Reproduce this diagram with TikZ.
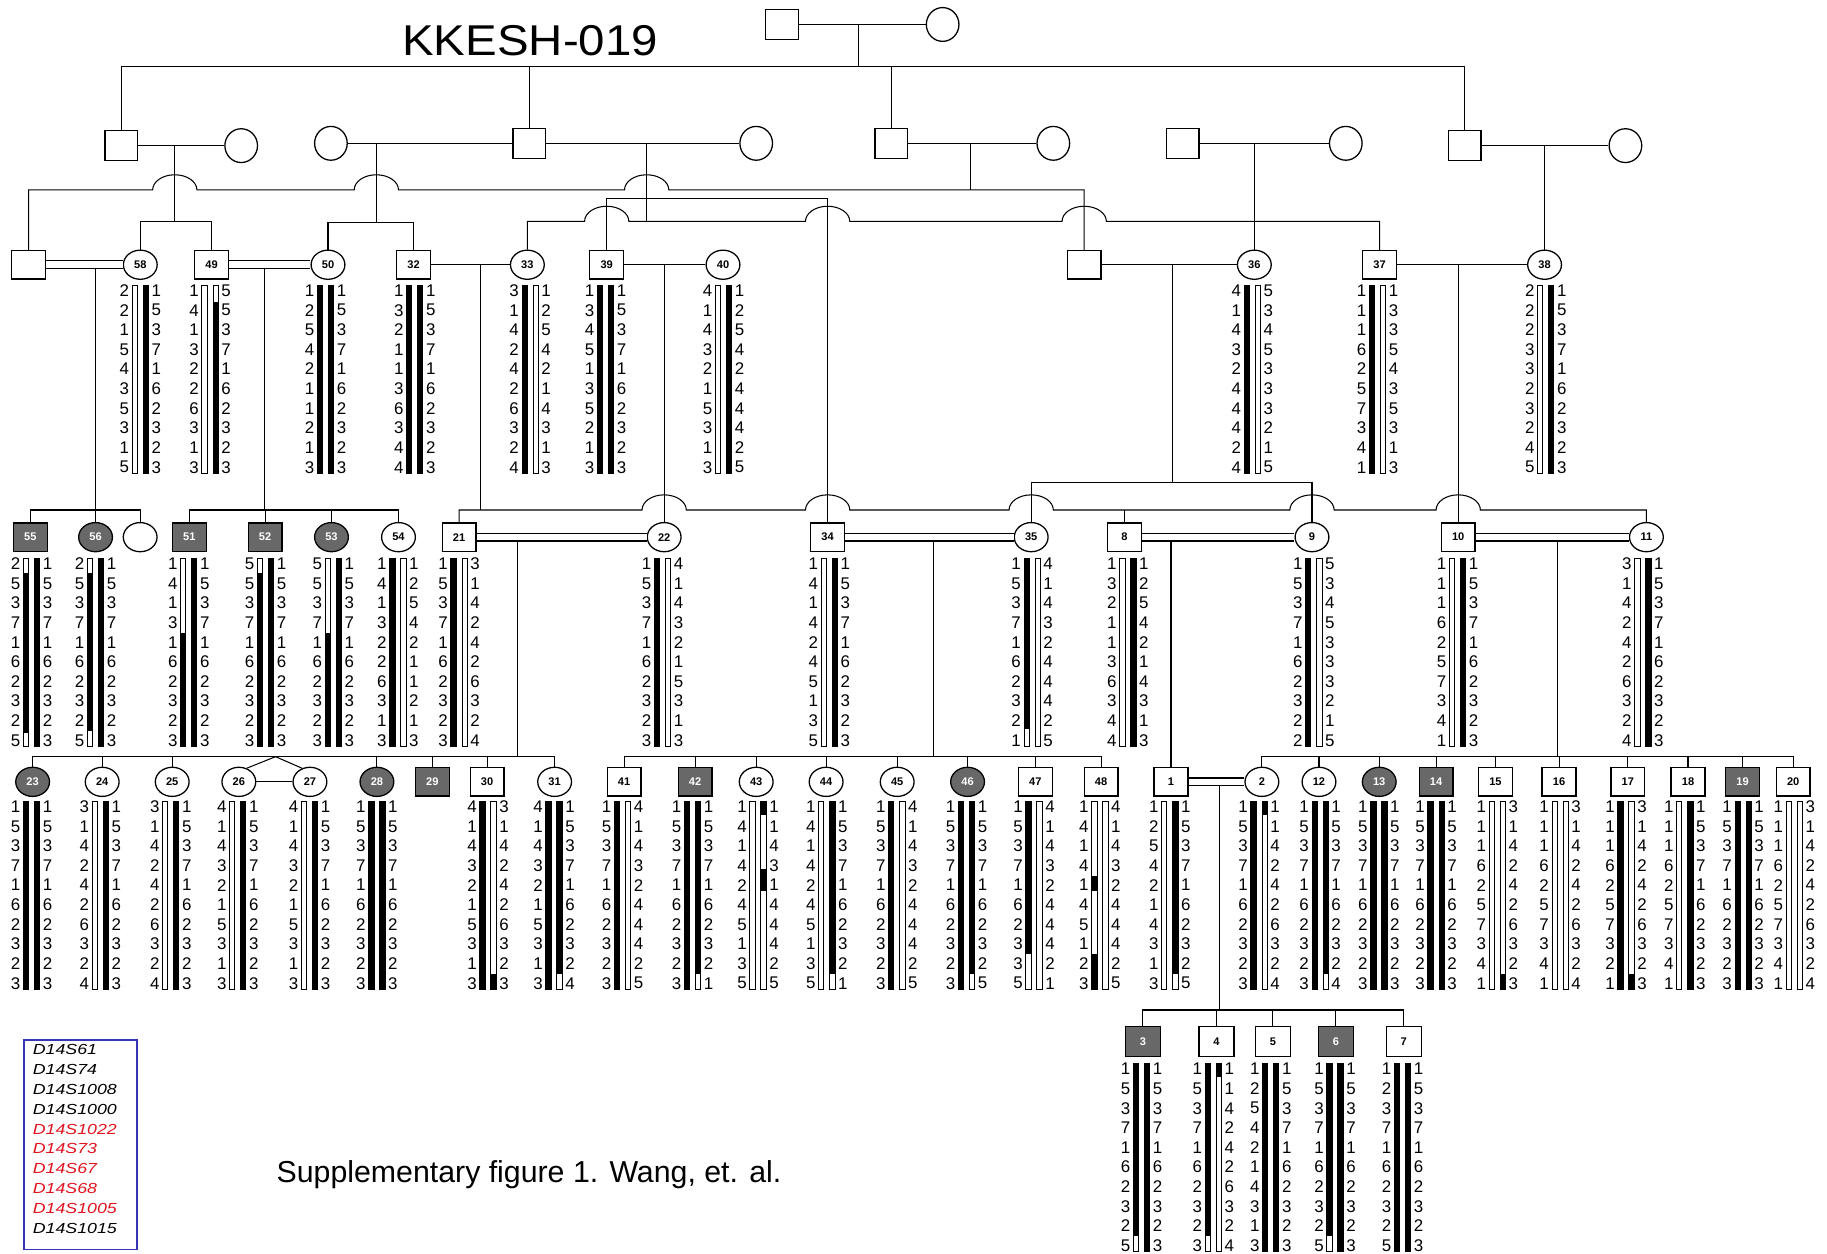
\documentclass[tikz,border=0pt]{standalone}
\usepackage{fontspec}
\setmainfont{Liberation Sans}
\newfontfamily\widefont[FakeStretch=1.1]{Liberation Sans}
\newfontfamily\legfont[FakeStretch=1.22]{Liberation Sans}
\usetikzlibrary{shapes.geometric}
\definecolor{affgray}{HTML}{686868}
\definecolor{legblue}{HTML}{3535B5}
\definecolor{legred}{HTML}{E0141E}
\newcommand\digfont{\fontsize{14.5}{14.5}\selectfont}
\newcommand\labfont{\fontsize{9.5}{9.5}\selectfont\bfseries}
\newcommand\hap[7]{%
  \foreach \hv [count=\i] in {#4}{\node[dig,anchor=east] (#1L\i) at ({#2-9.5},{#3+4.8+(\i-1)*16.84}) {\hv};}%
  \foreach \hv [count=\i] in {#5}{\node[dig,anchor=west] (#1R\i) at ({#2+9.5},{#3+4.8+(\i-1)*16.84}) {\hv};}%
  \draw[hbar] ({#2-7},#3) rectangle ({#2-2.5},{#3+161.5});%
  \foreach \ya/\yb in {#6}{\fill ({#2-7},{#3+\ya*16.15}) rectangle ({#2-2.5},{#3+\yb*16.15});}%
  \draw[hbar] ({#2+2.5},#3) rectangle ({#2+7},{#3+161.5});%
  \foreach \ya/\yb in {#7}{\fill ({#2+2.5},{#3+\ya*16.15}) rectangle ({#2+7},{#3+\yb*16.15});}%
}
\begin{document}
\begin{tikzpicture}[x=1pt,y=-1pt,
  ln/.style={line width=0.9pt},
  dbl/.style={line width=0.9pt,double=white,double distance=5.7pt},
  sqA/.style={draw,line width=1.1pt,fill=white,minimum width=28pt,minimum height=26pt,inner sep=0pt},
  ciA/.style={draw,ellipse,line width=1.1pt,fill=white,minimum width=28pt,minimum height=29pt,inner sep=0pt},
  sq/.style={draw,line width=1.1pt,fill=white,minimum width=29pt,minimum height=24.5pt,inner sep=0pt,font=\labfont},
  sqB/.style={draw,line width=1.1pt,fill=white,minimum width=30pt,minimum height=26pt,inner sep=0pt,font=\labfont},
  ci/.style={draw,ellipse,line width=1.1pt,fill=white,minimum width=29pt,minimum height=25pt,inner sep=0pt,font=\labfont},
  aff/.style={fill=affgray,text=white},
  dig/.style={inner sep=0pt,font=\digfont},
  hbar/.style={line width=0.8pt,fill=white},
  legt/.style={inner sep=0pt,anchor=west,font=\legfont\fontsize{12.5}{12.5}\selectfont\itshape}]
\useasboundingbox (0,0) rectangle (1568,1076);

% ---------- title ----------
\node[font=\widefont\fontsize{37}{37}\selectfont,inner sep=0pt] (title) at (455,35) {KKESH-019};

% ---------- generation I ----------
\node[sqA] (I1) at (671,21) {};
\node[ciA] (I2) at (809,21) {};

% ---------- generation II ----------
\node[sqA] (A) at (104,125) {};
\node[ciA] (Aw) at (207,125) {};
\node[ciA] (B) at (284,123) {};
\node[sqA] (C) at (454.3,123) {};
\node[ciA] (D) at (649,123) {};
\node[sqA] (E) at (765,123) {};
\node[ciA] (Ew) at (904,123) {};
\node[sqA] (F) at (1015,123) {};
\node[ciA] (Fw) at (1155,123) {};
\node[sqA] (G) at (1257,125) {};
\node[ciA] (Gw) at (1395,125) {};

% ---------- generation III ----------
\node[sq] (P1) at (24.5,227.2) {};
\node[ci] (n58) at (120.4,227.2) {58};
\node[sq] (n49) at (181.6,227.2) {49};
\node[ci] (n50) at (281.5,227.2) {50};
\node[sq] (n32) at (355,227.2) {32};
\node[ci] (n33) at (452.6,227.2) {33};
\node[sq] (n39) at (520.7,227.2) {39};
\node[ci] (n40) at (620.5,227.2) {40};
\node[sq] (P2) at (930.5,227.2) {};
\node[ci] (n36) at (1076.5,227.2) {36};
\node[sq] (n37) at (1184,227.2) {37};
\node[ci] (n38) at (1325.6,227.2) {38};

% ---------- generation IV ----------
\node[sq,aff] (n55) at (26,461) {55};
\node[ci,aff] (n56) at (82,461) {56};
\node[ci] (P3) at (120.3,461) {};
\node[sq,aff] (n51) at (162.5,461) {51};
\node[sq,aff] (n52) at (227.5,461) {52};
\node[ci,aff] (n53) at (284.5,461) {53};
\node[ci] (n54) at (342,461) {54};
\node[sq] (n21) at (394,461) {21};
\node[ci] (n22) at (570,461) {22};
\node[sq] (n34) at (710.3,461) {34};
\node[ci] (n35) at (885,461) {35};
\node[sq] (n8) at (965,461) {8};
\node[ci] (n9) at (1126,461) {9};
\node[sq] (n10) at (1251.5,461) {10};
\node[ci] (n11) at (1413,461) {11};

% ---------- generation V ----------
\node[ci,aff] (n23) at (28,671) {23};
\node[ci] (n24) at (87.7,671) {24};
\node[ci] (n25) at (147.8,671) {25};
\node[ci] (n26) at (205,671) {26};
\node[ci] (n27) at (266,671) {27};
\node[ci,aff] (n28) at (323.5,671) {28};
\node[sq,aff] (n29) at (371,671) {29};
\node[sq] (n30) at (418,671) {30};
\node[ci] (n31) at (476,671) {31};
\node[sq] (n41) at (535.6,671) {41};
\node[sq,aff] (n42) at (596.6,671) {42};
\node[ci] (n43) at (649,671) {43};
\node[ci] (n44) at (709,671) {44};
\node[ci] (n45) at (770,671) {45};
\node[ci,aff] (n46) at (830.4,671) {46};
\node[sq] (n47) at (888.6,671) {47};
\node[sq] (n48) at (945,671) {48};
\node[sq] (n1) at (1005,671) {1};
\node[ci] (n2) at (1083,671) {2};
\node[ci] (n12) at (1132,671) {12};
\node[ci,aff] (n13) at (1183.7,671) {13};
\node[sq,aff] (n14) at (1232.5,671) {14};
\node[sq] (n15) at (1283.4,671) {15};
\node[sq] (n16) at (1338,671) {16};
\node[sq] (n17) at (1397,671) {17};
\node[sq] (n18) at (1448.7,671) {18};
\node[sq,aff] (n19) at (1495.5,671) {19};
\node[sq] (n20) at (1539,671) {20};

% ---------- generation VI ----------
\node[sqB,aff] (n3) at (980.9,894) {3};
\node[sqB] (n4) at (1044,894) {4};
\node[sqB] (n5) at (1092.5,894) {5};
\node[sqB,aff] (n6) at (1146.5,894) {6};
\node[sqB] (n7) at (1204.7,894) {7};

% ---------- connectors: I -> II ----------
\draw[ln] (I1) -- (I2);
\coordinate (j0) at (737,21);
\coordinate (s0) at (737,57);
\draw[ln] (j0) -- (s0);
\draw[ln] (A.north) -- (A.north |- s0) -- (G.north |- s0) -- (G.north);
\draw[ln] (C.north) -- (C.north |- s0);
\draw[ln] (E.north) -- (E.north |- s0);

% ---------- marriages II ----------
\draw[ln] (A) -- (Aw);
\draw[ln] (B) -- (C);
\draw[ln] (C) -- (D);
\draw[ln] (E) -- (Ew);
\draw[ln] (F) -- (Fw);
\draw[ln] (G) -- (Gw);

% ---------- II -> III ----------
\coordinate (a1) at (150,125); \coordinate (a2) at (150,190);
\draw[ln] (a1) -- (a2);
\draw[ln] (n58.north) |- (a2) -| (n49.north);
\coordinate (b1) at (323,123); \coordinate (b2) at (323,191);
\draw[ln] (b1) -- (b2);
\draw[ln] (n50.north) |- (b2) -| (n32.north);
\coordinate (e1) at (833,123); \coordinate (e2) at (833,163);
\draw[ln] (e1) -- (e2);
\draw[ln] (P1.north) -- (P1.north |- e2) -- (131,163)
  arc[start angle=180,end angle=0,x radius=19pt,y radius=13pt] -- (304,163)
  arc[start angle=180,end angle=0,x radius=19pt,y radius=13pt] -- (536,163)
  arc[start angle=180,end angle=0,x radius=19pt,y radius=13pt] -- (P2.north |- e2) -- (P2.north);
\coordinate (c1) at (555,123); \coordinate (c3) at (555,190);
\draw[ln] (c1) -- (c3);
\coordinate (l2) at (710.3,170);
\draw[ln] (n39.north) |- (l2) -- (n34.north);
\draw[ln] (n33.north) -- (n33.north |- c3) -- (501.7,190)
  arc[start angle=180,end angle=0,x radius=19pt,y radius=13pt] -- (691.3,190)
  arc[start angle=180,end angle=0,x radius=19pt,y radius=13pt] -- (911.5,190)
  arc[start angle=180,end angle=0,x radius=19pt,y radius=13pt] -- (n37.north |- c3) -- (n37.north);
\draw[ln] (n36.north |- F) -- (n36.north);
\draw[ln] (n38.north |- Gw) -- (n38.north);

% ---------- III marriages and III -> IV ----------
\draw[dbl] (P1) -- (n58);
\coordinate (f1) at (82,230.6); \coordinate (f2) at (82,437.7);
\draw[ln] (f1) -- (f2);
\draw[ln] (n55.north) |- (f2) -| (P3.north);
\draw[ln] (f2) -- (n56.north);
\draw[dbl] (n49) -- (n50);
\coordinate (g1) at (227.4,230.6); \coordinate (g2) at (227.4,437.7);
\draw[ln] (g1) -- (g2);
\draw[ln] (n51.north) |- (g2) -| (n54.north);
\draw[ln] (n52.north) -- (n52.north |- g2);
\draw[ln] (n53.north) -- (n53.north |- g2);
\draw[ln] (n32) -- (n33);
\coordinate (k1) at (412,227.2); \coordinate (k2) at (412,437.7);
\draw[ln] (k1) -- (k2);
\draw[ln] (n21.north) -- (n21.north |- k2) -- (551,437.7)
  arc[start angle=180,end angle=0,x radius=19pt,y radius=13pt] -- (691.3,437.7)
  arc[start angle=180,end angle=0,x radius=19pt,y radius=13pt] -- (866,437.7)
  arc[start angle=180,end angle=0,x radius=19pt,y radius=13pt] -- (1107,437.7)
  arc[start angle=180,end angle=0,x radius=19pt,y radius=13pt] -- (1232.5,437.7)
  arc[start angle=180,end angle=0,x radius=19pt,y radius=13pt] -- (n11.north |- k2) -- (n11.north);
\draw[ln] (n8.north) -- (n8.north |- k2);
\draw[ln] (n39) -- (n40);
\draw[ln] (n22.north |- n39) -- (n22.north);
\draw[ln] (P2) -- (n36);
\coordinate (m1) at (1006,227.2); \coordinate (m2) at (1006,414);
\draw[ln] (m1) -- (m2);
\draw[ln] (n35.north) |- (m2) -| (n9.north);
\draw[ln] (n37) -- (n38);
\draw[ln] (n10.north |- n37) -- (n10.north);

% ---------- IV marriages and IV -> V ----------
\draw[dbl] (n21) -- (n22);
\coordinate (p1) at (443.8,464.3); \coordinate (p2) at (443.8,649.4);
\draw[ln] (p1) -- (p2);
\draw[ln] (n23.north) |- (p2) -| (n31.north);
\foreach \nn in {n24,n25,n28,n29,n30} \draw[ln] (\nn.north) -- (\nn.north |- p2);
\coordinate (tw) at (236.5,649.4);
\draw[ln] (n26.60) -- (tw) -- (n27.120);
\draw[ln] (n26) -- (n27);
\draw[dbl] (n34) -- (n35);
\coordinate (q1) at (800.8,464.3); \coordinate (q2) at (800.8,649.4);
\draw[ln] (q1) -- (q2);
\draw[ln] (n41.north) |- (q2) -| (n48.north);
\foreach \nn in {n42,n43,n44,n45,n46,n47} \draw[ln] (\nn.north) -- (\nn.north |- q2);
\draw[dbl] (n8) -- (n9);
\coordinate (r1) at (1005,464.3);
\draw[ln] (r1) -- (n1.north);
\draw[dbl] (n10) -- (n11);
\coordinate (t1) at (1336.3,464.3); \coordinate (t2) at (1336.3,649.4);
\draw[ln] (t1) -- (t2);
\draw[ln] (n2.north) |- (t2) -| (n20.north);
\foreach \nn in {n12,n13,n14,n15,n16,n17,n18,n19} \draw[ln] (\nn.north) -- (\nn.north |- t2);

% ---------- V -> VI ----------
\draw[dbl] (n1) -- (n2);
\coordinate (u1) at (1046.3,674.3); \coordinate (u2) at (1046.3,866.8);
\draw[ln] (u1) -- (u2);
\draw[ln] (n3.north) |- (u2) -| (n7.north);
\foreach \nn in {n4,n5,n6} \draw[ln] (\nn.north) -- (\nn.north |- u2);

% ---------- haplotypes III ----------
\hap{h58}{120.4}{244.6}{2,2,1,5,4,3,5,3,1,5}{1,5,3,7,1,6,2,3,2,3}{0/0}{0/10}
\hap{h49}{180.3}{244.6}{1,4,1,3,2,2,6,3,1,3}{5,5,3,7,1,6,2,3,2,3}{0/0}{0.9/10}
\hap{h50}{279.5}{244.6}{1,2,5,4,2,1,1,2,1,3}{1,5,3,7,1,6,2,3,2,3}{0/10}{0/10}
\hap{h32}{356}{244.6}{1,3,2,1,1,3,6,3,4,4}{1,5,3,7,1,6,2,3,2,3}{0/10}{0/10}
\hap{h33}{455}{244.6}{3,1,4,2,4,2,6,3,2,4}{1,2,5,4,2,1,4,3,1,3}{0/10}{0/0}
\hap{h39}{519.8}{244.6}{1,3,4,5,1,3,5,2,1,3}{1,5,3,7,1,6,2,3,2,3}{0/10}{0/10}
\hap{h40}{621}{244.6}{4,1,4,3,2,1,5,3,1,3}{1,2,5,4,2,4,4,4,2,5}{0/0}{0/10}
\hap{h36}{1074.8}{244.6}{4,1,4,3,2,4,4,4,2,4}{5,3,4,5,3,3,3,2,1,5}{0/10}{0/0}
\hap{h37}{1182.3}{244.6}{1,1,1,6,2,5,7,3,4,1}{1,3,3,5,4,3,5,3,1,3}{0/10}{0/0}
\hap{h38}{1326.6}{244.6}{2,2,2,3,3,2,3,2,4,5}{1,5,3,7,1,6,2,3,2,3}{0/0}{0/10}

% ---------- haplotypes IV ----------
\hap{h55}{27.2}{479}{2,5,3,7,1,6,2,3,2,5}{1,5,3,7,1,6,2,3,2,3}{0.8/9.3}{0/10}
\hap{h56}{82}{479}{2,5,3,7,1,6,2,3,2,5}{1,5,3,7,1,6,2,3,2,3}{0.8/9.2}{0/10}
\hap{h51}{162}{479}{1,4,1,3,1,6,2,3,2,3}{1,5,3,7,1,6,2,3,2,3}{4/10}{0/10}
\hap{h52}{228}{479}{5,5,3,7,1,6,2,3,2,3}{1,5,3,7,1,6,2,3,2,3}{0.8/10}{0/10}
\hap{h53}{286}{479}{5,5,3,7,1,6,2,3,2,3}{1,5,3,7,1,6,2,3,2,3}{4/10}{0/10}
\hap{h54}{341.5}{479}{1,4,1,3,2,2,6,3,1,3}{1,2,5,4,2,1,1,2,1,3}{0/10}{0/0}
\hap{h21}{394}{479}{1,5,3,7,1,6,2,3,2,3}{3,1,4,2,4,2,6,3,2,4}{0/10}{0/0}
\hap{h22}{568.7}{479}{1,5,3,7,1,6,2,3,2,3}{4,1,4,3,2,1,5,3,1,3}{0/10}{0/0}
\hap{h34}{711.8}{479}{1,4,1,4,2,4,5,1,3,5}{1,5,3,7,1,6,2,3,2,3}{0/0}{0/10}
\hap{h35}{885.8}{479}{1,5,3,7,1,6,2,3,2,1}{4,1,4,3,2,4,4,4,2,5}{0/9.1}{0/0}
\hap{h8}{968}{479}{1,3,2,1,1,3,6,3,4,4}{1,2,5,4,2,1,4,3,1,3}{0/0}{0/10}
\hap{h9}{1127.6}{479}{1,5,3,7,1,6,2,3,2,2}{5,3,4,5,3,3,3,2,1,5}{0/10}{0/0}
\hap{h10}{1251}{479}{1,1,1,6,2,5,7,3,4,1}{1,5,3,7,1,6,2,3,2,3}{0/0}{0/10}
\hap{h11}{1410}{479}{3,1,4,2,4,2,6,3,2,4}{1,5,3,7,1,6,2,3,2,3}{0/0}{0/10}

% ---------- haplotypes V ----------
\hap{h23}{27}{687.5}{1,5,3,7,1,6,2,3,2,3}{1,5,3,7,1,6,2,3,2,3}{0/10}{0/10}
\hap{h24}{86.2}{687.5}{3,1,4,2,4,2,6,3,2,4}{1,5,3,7,1,6,2,3,2,3}{0/0}{0/10}
\hap{h25}{146.5}{687.5}{3,1,4,2,4,2,6,3,2,4}{1,5,3,7,1,6,2,3,2,3}{0/0}{0/10}
\hap{h26}{204}{687.5}{4,1,4,3,2,1,5,3,1,3}{1,5,3,7,1,6,2,3,2,3}{0/0}{0/10}
\hap{h27}{265.7}{687.5}{4,1,4,3,2,1,5,3,1,3}{1,5,3,7,1,6,2,3,2,3}{0/0}{0/10}
\hap{h28}{323.5}{687.5}{1,5,3,7,1,6,2,3,2,3}{1,5,3,7,1,6,2,3,2,3}{0/10}{0/10}
\hap{h30}{418.8}{687.5}{4,1,4,3,2,1,5,3,1,3}{3,1,4,2,4,2,6,3,2,3}{0/10}{9.2/10}
\hap{h31}{475.5}{687.5}{4,1,4,3,2,1,5,3,1,3}{1,5,3,7,1,6,2,3,2,4}{0/10}{0/9.2}
\hap{h41}{534.4}{687.5}{1,5,3,7,1,6,2,3,2,3}{4,1,4,3,2,4,4,4,2,5}{0/10}{0/0}
\hap{h42}{594.3}{687.5}{1,5,3,7,1,6,2,3,2,3}{1,5,3,7,1,6,2,3,2,1}{0/10}{0/9.2}
\hap{h43}{650.5}{687.5}{1,4,1,4,2,4,5,1,3,5}{1,1,4,3,1,4,4,4,2,5}{0/0}{0/0.75,3.6/4.8}
\hap{h44}{709.6}{687.5}{1,4,1,4,2,4,5,1,3,5}{1,5,3,7,1,6,2,3,2,1}{0/0}{0/9.2}
\hap{h45}{769.7}{687.5}{1,5,3,7,1,6,2,3,2,3}{4,1,4,3,2,4,4,4,2,5}{0/10}{0/0}
\hap{h46}{829.6}{687.5}{1,5,3,7,1,6,2,3,2,3}{1,5,3,7,1,6,2,3,2,5}{0/10}{0/9.2}
\hap{h47}{887.4}{687.5}{1,5,3,7,1,6,2,3,3,5}{4,1,4,3,2,4,4,4,2,1}{0/8.15}{0/0}
\hap{h48}{944}{687.5}{1,4,1,4,1,4,5,1,2,3}{4,1,4,3,2,4,4,4,2,5}{4/4.8,8.15/10}{0/0}
\hap{h1}{1004}{687.5}{1,2,5,4,2,1,4,3,1,3}{1,5,3,7,1,6,2,3,2,5}{0/0}{0/9.2}
\hap{h2}{1080.6}{687.5}{1,5,3,7,1,6,2,3,2,3}{1,1,4,2,4,2,6,3,2,4}{0/10}{0/0.75}
\hap{h12}{1133}{687.5}{1,5,3,7,1,6,2,3,2,3}{1,5,3,7,1,6,2,3,2,4}{0/10}{0/9.2}
\hap{h13}{1183.4}{687.5}{1,5,3,7,1,6,2,3,2,3}{1,5,3,7,1,6,2,3,2,3}{0/10}{0/10}
\hap{h14}{1232.5}{687.5}{1,5,3,7,1,6,2,3,2,3}{1,5,3,7,1,6,2,3,2,3}{0/10}{0/10}
\hap{h15}{1285}{687.5}{1,1,1,6,2,5,7,3,4,1}{3,1,4,2,4,2,6,3,2,3}{0/0}{9.2/10}
\hap{h16}{1339}{687.5}{1,1,1,6,2,5,7,3,4,1}{3,1,4,2,4,2,6,3,2,4}{0/0}{0/0}
\hap{h17}{1395.5}{687.5}{1,1,1,6,2,5,7,3,2,1}{3,1,4,2,4,2,6,3,2,3}{0/10}{9.2/10}
\hap{h18}{1446}{687.5}{1,1,1,6,2,5,7,3,4,1}{1,5,3,7,1,6,2,3,2,3}{0/0}{0/10}
\hap{h19}{1496}{687.5}{1,5,3,7,1,6,2,3,2,3}{1,5,3,7,1,6,2,3,2,3}{0/10}{0/10}
\hap{h20}{1540}{687.5}{1,1,1,6,2,5,7,3,4,1}{3,1,4,2,4,2,6,3,2,4}{0/0}{0/0}

% ---------- haplotypes VI ----------
\hap{h3}{979.8}{912.6}{1,5,3,7,1,6,2,3,2,5}{1,5,3,7,1,6,2,3,2,3}{0/9.2}{0/10}
\hap{h4}{1041.3}{912.6}{1,5,3,7,1,6,2,3,2,3}{1,1,4,2,4,2,6,3,2,4}{0/9.2}{0/0.7}
\hap{h5}{1090.6}{912.6}{1,2,5,4,2,1,4,3,1,3}{1,5,3,7,1,6,2,3,2,3}{0/10}{0/10}
\hap{h6}{1145.7}{912.6}{1,5,3,7,1,6,2,3,2,5}{1,5,3,7,1,6,2,3,2,3}{0/9.2}{0/10}
\hap{h7}{1203.8}{912.6}{1,2,3,7,1,6,2,3,2,5}{1,5,3,7,1,6,2,3,2,3}{0/10}{0/10}

% ---------- legend ----------
\node[draw=legblue,line width=1.1pt,minimum width=97pt,minimum height=180pt,inner sep=0pt,anchor=north west] (leg) at (20,892) {};
\node[legt] (m1) at (28,901) {D14S61};
\node[legt] (m2) at (28,918) {D14S74};
\node[legt] (m3) at (28,935) {D14S1008};
\node[legt] (m4) at (28,952) {D14S1000};
\node[legt,text=legred] (m5) at (28,969) {D14S1022};
\node[legt,text=legred] (m6) at (28,986) {D14S73};
\node[legt,text=legred] (m7) at (28,1003) {D14S67};
\node[legt,text=legred] (m8) at (28,1020) {D14S68};
\node[legt,text=legred] (m9) at (28,1037) {D14S1005};
\node[legt] (m10) at (28,1054) {D14S1015};

% ---------- caption ----------
\node[font=\fontsize{26}{26}\selectfont,inner sep=0pt] (supp) at (454,1008) {Supplementary figure 1. Wang, et. al.};
\end{tikzpicture}
\end{document}
